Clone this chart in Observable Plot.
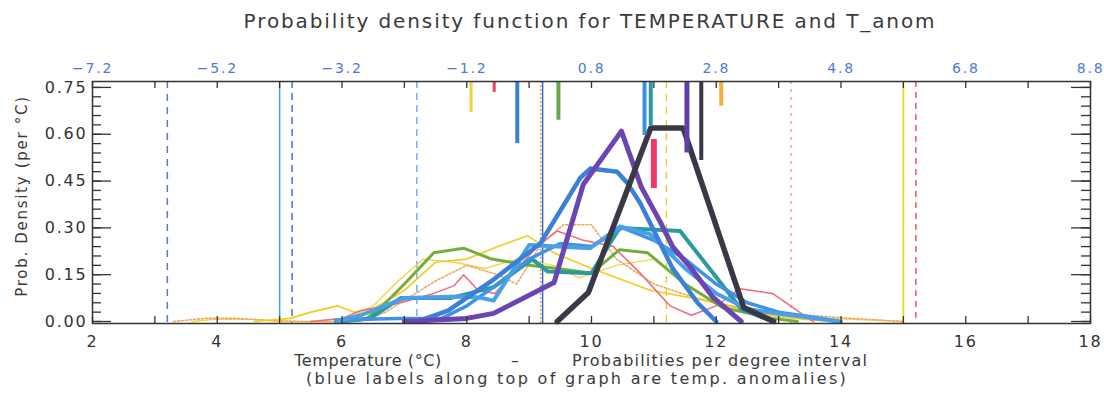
<!DOCTYPE html>
<html><head><meta charset="utf-8">
<script src="https://cdn.jsdelivr.net/npm/d3@7"></script>
<script src="https://cdn.jsdelivr.net/npm/@observablehq/plot@0.6"></script>
<style>
body{margin:0;background:#fff;}
#wrap{position:relative;width:1104px;height:393px;font-family:"DejaVu Sans",sans-serif;color:#3a3a3a;overflow:hidden;}
.t{position:absolute;white-space:pre;transform:translateX(-50%);}
</style></head><body>
<div id="wrap">
<div id="chart"></div>
<div class="t" style="left:590px;top:9px;font-size:20px;letter-spacing:1.9px;">Probability density function for TEMPERATURE and T_anom</div>
<div class="t" style="left:368px;top:351px;font-size:16px;letter-spacing:0.6px;">Temperature (°C)</div>
<div class="t" style="left:515px;top:351px;font-size:16px;">–</div>
<div class="t" style="left:720px;top:351px;font-size:16px;letter-spacing:1.2px;">Probabilities per degree interval</div>
<div class="t" style="left:577px;top:369px;font-size:16px;letter-spacing:2.3px;">(blue labels along top of graph are temp. anomalies)</div>
<div class="t" style="left:22px;top:196px;font-size:15px;letter-spacing:1.7px;transform:translate(-50%,-50%) rotate(-90deg);">Prob. Density (per °C)</div>
</div>
<script>
// ---- data (temperature °C, probability density per °C) ----
const yellowA = [[4.6,0],[5.17,0.01],[5.5,0.03],[5.93,0.05],[6.2,0.03],[6.5,0.04],[7.0,0.1],[7.5,0.19],[8.0,0.2],[8.5,0.24],[8.97,0.275],[9.4,0.22],[10.0,0.17],[10.4,0.14],[10.94,0.1],[11.75,0.07],[12.4,0.04],[13.0,0.015],[13.5,0.005],[14.0,0]];
const yellowB = [[3.6,0],[4.0,0.008],[4.6,0.006],[5.0,0],[6.0,0],[6.5,0.05],[6.9,0.13],[7.3,0.2],[7.8,0.19],[8.3,0.17],[8.8,0.2],[9.4,0.18],[9.8,0.14],[10.4,0.18],[11.0,0.2],[11.5,0.12],[12.0,0.06],[12.8,0.03],[13.8,0.01],[15.0,0]];
const orangeDot = [[3.3,0],[3.8,0.01],[4.3,0.01],[4.8,0.004],[5.3,0],[6.3,0],[6.7,0.03],[7.1,0.08],[7.5,0.13],[8.0,0.18],[8.5,0.15],[8.8,0.12],[9.2,0.25],[9.55,0.31],[10.0,0.31],[10.4,0.2],[11.0,0.12],[11.6,0.08],[12.2,0.05],[12.8,0.03],[13.5,0.02],[14.0,0.012],[14.5,0.006],[15.0,0]];
const red = [[5.5,0],[6.0,0.01],[6.3,0.035],[6.57,0.045],[6.94,0.06],[7.47,0.09],[7.8,0.115],[7.95,0.15],[8.18,0.1],[8.45,0.09],[9.13,0.24],[9.45,0.29],[9.87,0.26],[10.35,0.24],[10.78,0.155],[11.26,0.05],[11.6,0.02],[12.0,0.05],[12.38,0.105],[12.9,0.09],[13.3,0.035],[13.56,0]];
const green = [[6.0,0],[6.4,0.01],[6.7,0.06],[7.0,0.12],[7.47,0.22],[7.95,0.235],[8.4,0.2],[9.0,0.18],[9.45,0.17],[10.0,0.155],[10.45,0.23],[10.9,0.22],[11.5,0.12],[12.1,0.045],[12.9,0.01],[13.3,0]];
const teal = [[6.0,0],[6.45,0.01],[6.94,0.075],[7.74,0.075],[8.43,0.11],[9.05,0.2],[9.3,0.16],[10.0,0.155],[10.45,0.3],[11.42,0.29],[12.4,0.04],[12.9,0]];
const blueC = [[5.9,0.005],[6.9,0.01],[7.6,0.01],[8.0,0.05],[8.5,0.12],[9.0,0.2],[9.5,0.25],[10.0,0.24],[10.5,0.3],[11.0,0.26],[11.5,0.2],[12.0,0.12],[12.5,0.06],[13.0,0.03],[13.5,0.015],[14.0,0]];
const blueB = [[5.9,0],[6.3,0.02],[7.0,0.075],[7.9,0.08],[8.2,0.077],[8.43,0.067],[9.0,0.245],[9.98,0.235],[10.46,0.305],[10.94,0.28],[11.5,0.17],[12.0,0.09],[12.5,0.04],[13.0,0.025],[13.5,0.013],[13.95,0]];
const blueA = [[7.2,0],[7.7,0.035],[8.4,0.13],[9.18,0.25],[9.82,0.46],[9.98,0.49],[10.41,0.48],[10.57,0.445],[10.78,0.38],[11.3,0.17],[11.7,0.06],[12.0,0]];
const purple = [[7.0,0],[8.0,0.01],[8.43,0.026],[9.4,0.125],[9.87,0.44],[10.48,0.61],[10.8,0.43],[11.1,0.32],[11.3,0.24],[11.6,0.17],[11.95,0.077],[12.4,0]];
const black = [[9.45,0],[9.95,0.093],[10.95,0.62],[11.47,0.62],[12.44,0.045],[12.92,0]];

// vertical reference lines (temperature)
const refT = [3.2, 5.0, 5.2, 7.2, 9.2, 9.2, 11.2, 13.2, 15.0, 15.2];
// short bars hanging from the top: temperature and lower end
const barT = [8.07, 8.44, 8.81, 9.47, 10.85, 10.95, 11.53, 11.76, 12.08];
const barLow = [0.67, 0.734, 0.57, 0.645, 0.596, 0.628, 0.54, 0.516, 0.69];
const pinkBarT = [11.0];
const pinkBarRange = [[0.426, 0.583]];

// axis ticks / labels
const xLabelT = [2,4,6,8,10,12,14,16,18];
const topLabels = ["−7.2","−5.2","−3.2","−1.2","0.8","2.8","4.8","6.8","8.8"];
const yLabelV = [0, 0.15, 0.30, 0.45, 0.60, 0.75];

// ---- styles ----
const seriesList = [
  {d: yellowB, stroke:"#f3d54a", w:1.4},
  {d: orangeDot, stroke:"#f0a860", w:1.6, dash:"2,2"},
  {d: yellowA, stroke:"#f2cc1a", w:1.6},
  {d: red, stroke:"#f06878", w:1.5},
  {d: green, stroke:"#74ad3e", w:3},
  {d: teal, stroke:"#2b9a9e", w:4},
  {d: blueC, stroke:"#3f93e2", w:3.5},
  {d: blueB, stroke:"#4aa0e8", w:4},
  {d: blueA, stroke:"#3a7fd8", w:4.5},
  {d: purple, stroke:"#6b45b2", w:5},
  {d: black, stroke:"#3b3846", w:5.5}
];
const refStyle = [
  {stroke:"#5a72e0", w:1.5, dash:"7,6"},
  {stroke:"#3aa8d8", w:1.5},
  {stroke:"#4a6ee0", w:1.5, dash:"7,5"},
  {stroke:"#70b0f0", w:1.5, dash:"7,5"},
  {stroke:"#f0a040", w:1.5, dash:"2,2", dx:-1},
  {stroke:"#3366dd", w:1.5, dx:1},
  {stroke:"#f0c828", w:1.4, dash:"7,6"},
  {stroke:"#e8a070", w:1.3, dash:"3,5"},
  {stroke:"#f2d020", w:1.8},
  {stroke:"#ee5566", w:1.5, dash:"6,5"}
];
const barStyle = [
  {stroke:"#f5d030", w:3},
  {stroke:"#f04060", w:3},
  {stroke:"#3b7fd8", w:4},
  {stroke:"#6aa84f", w:4},
  {stroke:"#3b8fe0", w:4},
  {stroke:"#2a9a9a", w:4},
  {stroke:"#6040a8", w:5},
  {stroke:"#3a3848", w:4},
  {stroke:"#f0b040", w:4}
];

const W = 1104, H = 393, mL = 92, mR = 14, mT = 81, mB = 70;
const plotW = W - mL - mR, plotH = H - mT - mB;
const yTop = 0.769, yBot = -0.0064;
const xMinor = d3.range(2, 18.01, 1);
const yMinor = d3.range(0, 0.7501, 0.03);

const marks = [];
refT.forEach((t, i) => {
  const s = refStyle[i];
  marks.push(Plot.ruleX([t], {x: d => d, stroke: s.stroke, strokeWidth: s.w, strokeDasharray: s.dash, dx: s.dx || 0}));
});
seriesList.forEach(s => {
  marks.push(Plot.line(s.d, {x: d => d[0], y: d => d[1], stroke: s.stroke, strokeWidth: s.w,
    strokeDasharray: s.dash, strokeLinejoin: "round", strokeLinecap: "round"}));
});
barT.forEach((t, i) => {
  const s = barStyle[i];
  marks.push(Plot.ruleX([t], {x: d => d, y1: yTop, y2: barLow[i], stroke: s.stroke, strokeWidth: s.w}));
});
marks.push(Plot.ruleX(pinkBarT, {x: d => d, y1: (d, i) => pinkBarRange[i][0], y2: (d, i) => pinkBarRange[i][1], stroke: "#f03868", strokeWidth: 6}));

// ticks (inward)
marks.push(Plot.ruleX(xMinor, {x: d => d, insetTop: plotH - 7, stroke: "#333", strokeWidth: 1.3}));
marks.push(Plot.ruleX(xMinor, {x: d => d, insetBottom: plotH - 7, stroke: "#333", strokeWidth: 1.3}));
marks.push(Plot.ruleY(yMinor, {y: d => d, insetRight: plotW - 9, stroke: "#333", strokeWidth: 1.3}));
marks.push(Plot.ruleY(yLabelV, {y: d => d, insetRight: plotW - 19, stroke: "#333", strokeWidth: 1.3}));
marks.push(Plot.ruleY(yMinor, {y: d => d, insetLeft: plotW - 9, stroke: "#333", strokeWidth: 1.3}));
marks.push(Plot.ruleY(yLabelV, {y: d => d, insetLeft: plotW - 19, stroke: "#333", strokeWidth: 1.3}));
marks.push(Plot.frame({stroke: "#333", strokeWidth: 1.5}));

marks.push(Plot.axisX(xLabelT, {anchor: "bottom", tickSize: 0, tickPadding: 12, fontSize: 16, fill: "#333"}));
marks.push(Plot.axisX(xLabelT, {anchor: "top", tickSize: 0, tickPadding: 9, fontSize: 14,
  fill: "#4a7ad8", tickFormat: d => topLabels[xLabelT.indexOf(d)]}));
marks.push(Plot.axisY(yLabelV, {anchor: "left", tickSize: 0, tickPadding: 5, fontSize: 16, fill: "#333",
  tickFormat: d3.format(".2f")}));

const chart = Plot.plot({
  width: W, height: H,
  marginLeft: mL, marginRight: mR, marginTop: mT, marginBottom: mB,
  x: {domain: [2, 18]},
  y: {domain: [yBot, yTop]},
  style: {fontFamily: "DejaVu Sans, sans-serif", background: "#fff", letterSpacing: "1.8px"},
  marks
});
document.getElementById("chart").appendChild(chart);
</script>
</body></html>
